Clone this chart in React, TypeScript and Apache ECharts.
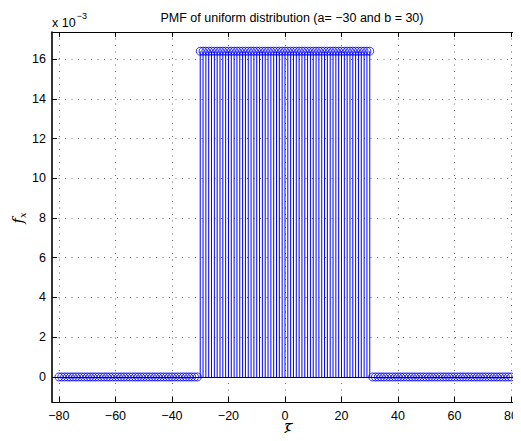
import { useEffect, useRef } from "react";
import * as echarts from "echarts";

// Support of the plotted PMF: integers from -80 to 80
const xStart = -80;

// PMF values: zero tail, uniform plateau over [-30, 30], zero tail
const leftTail = [
  0, 0, 0, 0, 0, 0, 0, 0, 0, 0,
  0, 0, 0, 0, 0, 0, 0, 0, 0, 0,
  0, 0, 0, 0, 0, 0, 0, 0, 0, 0,
  0, 0, 0, 0, 0, 0, 0, 0, 0, 0,
  0, 0, 0, 0, 0, 0, 0, 0, 0, 0,
];
const plateau = [
  0.016393, 0.016393, 0.016393, 0.016393, 0.016393, 0.016393, 0.016393, 0.016393, 0.016393, 0.016393,
  0.016393, 0.016393, 0.016393, 0.016393, 0.016393, 0.016393, 0.016393, 0.016393, 0.016393, 0.016393,
  0.016393, 0.016393, 0.016393, 0.016393, 0.016393, 0.016393, 0.016393, 0.016393, 0.016393, 0.016393,
  0.016393, 0.016393, 0.016393, 0.016393, 0.016393, 0.016393, 0.016393, 0.016393, 0.016393, 0.016393,
  0.016393, 0.016393, 0.016393, 0.016393, 0.016393, 0.016393, 0.016393, 0.016393, 0.016393, 0.016393,
  0.016393, 0.016393, 0.016393, 0.016393, 0.016393, 0.016393, 0.016393, 0.016393, 0.016393, 0.016393,
  0.016393,
];
const rightTail = [
  0, 0, 0, 0, 0, 0, 0, 0, 0, 0,
  0, 0, 0, 0, 0, 0, 0, 0, 0, 0,
  0, 0, 0, 0, 0, 0, 0, 0, 0, 0,
  0, 0, 0, 0, 0, 0, 0, 0, 0, 0,
  0, 0, 0, 0, 0, 0, 0, 0, 0, 0,
];

const xTicks = [-80, -60, -40, -20, 0, 20, 40, 60, 80];
const yTicks = [0, 0.002, 0.004, 0.006, 0.008, 0.01, 0.012, 0.014, 0.016];

const X_MIN = -82.45;
const X_MAX = 82.45;
const Y_MIN = -0.00126;
const Y_MAX = 0.01736;

const BLUE = "#0000ff";
const FONT = "'Liberation Sans', Arial, sans-serif";
const SERIF = "'DejaVu Serif', 'Liberation Serif', serif";

const fmtX = (v: number) => (v < 0 ? "\u2212" + Math.abs(v) : String(v));
const fmtY = (v: number) => String(Math.round(v * 1000));

export default function App() {
  const ref = useRef<HTMLDivElement>(null);

  useEffect(() => {
    if (!ref.current) return;
    const chart = echarts.init(ref.current, undefined, { renderer: "svg" });

    const values = [...leftTail, ...plateau, ...rightTail];
    const points: [number, number][] = values.map((v, i) => [xStart + i, v]);

    const gridLine = { show: true, lineStyle: { color: "#666", type: [1, 5.5] as number[], width: 1 } };
    const axisLine = (w: number) => ({ show: true, onZero: false, lineStyle: { color: "#000", width: w } });
    const tick = (vals: number[]) => ({
      show: true,
      inside: true,
      length: 5,
      customValues: vals,
      lineStyle: { color: "#000" },
    });

    chart.setOption({
      animation: false,
      backgroundColor: "#fff",
      grid: { left: 52, right: -3, top: 32, bottom: 39, containLabel: false },
      title: {
        text: "PMF of uniform distribution (a= \u221230 and b = 30)",
        left: 287,
        textAlign: "center",
        top: 6,
        textStyle: { fontFamily: FONT, fontSize: 12.5, fontWeight: "normal", color: "#000" },
      },
      xAxis: [
        {
          type: "value",
          min: X_MIN,
          max: X_MAX,
          position: "bottom",
          axisLine: axisLine(1),
          axisTick: tick(xTicks),
          axisLabel: {
            customValues: xTicks,
            formatter: fmtX,
            color: "#000",
            fontFamily: FONT,
            fontSize: 12.5,
            margin: 7,
          },
          splitLine: gridLine,
        },
        {
          type: "value",
          min: X_MIN,
          max: X_MAX,
          position: "top",
          axisLine: axisLine(1),
          axisTick: tick(xTicks),
          axisLabel: { show: false },
          splitLine: { show: false },
        },
      ],
      yAxis: [
        {
          type: "value",
          min: Y_MIN,
          max: Y_MAX,
          position: "left",
          axisLine: axisLine(1.6),
          axisTick: tick(yTicks),
          axisLabel: {
            customValues: yTicks,
            formatter: fmtY,
            color: "#000",
            fontFamily: FONT,
            fontSize: 12.5,
            margin: 6,
          },
          splitLine: gridLine,
        },
        {
          type: "value",
          min: Y_MIN,
          max: Y_MAX,
          position: "right",
          axisLine: axisLine(1),
          axisTick: tick(yTicks),
          axisLabel: { show: false },
          splitLine: { show: false },
        },
      ],
      graphic: [
        {
          type: "text",
          left: 52,
          top: 11,
          style: {
            text: "{b|x 10}{s|\u22123}",
            rich: {
              b: { fontFamily: FONT, fontSize: 12.5, fill: "#000", padding: [7, 0, 0, 0] },
              s: { fontFamily: FONT, fontSize: 9, fill: "#000", padding: [0, 0, 7, 1] },
            },
          },
        },
        {
          type: "text",
          x: 20,
          y: 218,
          rotation: Math.PI / 2,
          style: {
            text: "{f|f}{s|x}",
            align: "center",
            verticalAlign: "middle",
            rich: {
              f: { fontFamily: SERIF, fontStyle: "italic", fontSize: 15, fill: "#000", padding: [0, 0, 4, 0] },
              s: { fontFamily: SERIF, fontStyle: "italic", fontSize: 10, fill: "#000", padding: [5, 0, 0, 0] },
            },
          },
        },
        {
          type: "text",
          x: 288,
          y: 430,
          style: {
            text: "\u03be",
            align: "center",
            verticalAlign: "middle",
            fontFamily: SERIF,
            fontStyle: "italic",
            fontSize: 16,
            fill: "#000",
          },
        },
      ],
      series: [
        {
          name: "stems",
          type: "bar",
          data: points,
          barWidth: 1,
          itemStyle: { color: BLUE },
          silent: true,
          markLine: {
            silent: true,
            symbol: "none",
            label: { show: false },
            lineStyle: { color: "#000", width: 1, type: "solid" },
            data: [{ yAxis: 0 }],
          },
        },
        {
          name: "pmf",
          type: "scatter",
          data: points,
          symbol: "circle",
          symbolSize: 8,
          itemStyle: { color: "rgba(0,0,0,0)", borderColor: BLUE, borderWidth: 1 },
          silent: true,
          z: 3,
        },
      ],
    });

    return () => chart.dispose();
  }, []);

  return <div ref={ref} style={{ width: 521, height: 441, margin: -8 }} />;
}
